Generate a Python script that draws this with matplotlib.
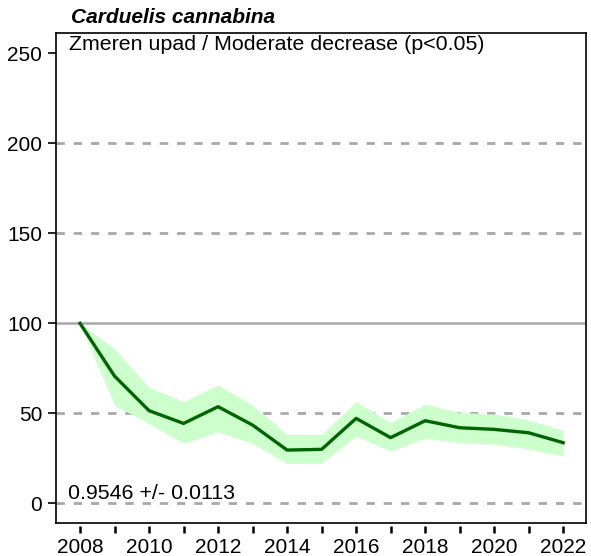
import numpy as np
import matplotlib.pyplot as plt

plt.rcParams['font.family'] = ['Liberation Sans', 'DejaVu Sans']

# podatki (indeks, 2008 = 100)
years = [2008, 2009, 2010, 2011, 2012, 2013, 2014, 2015,
         2016, 2017, 2018, 2019, 2020, 2021, 2022]
index = [100, 70.7, 51.5, 44.4, 53.7, 43.5, 29.6, 30.0,
         47.2, 36.5, 45.9, 42.0, 41.1, 39.2, 33.7]
upper = [100, 86.0, 64.4, 56.5, 65.7, 54.6, 38.3, 38.3,
         56.5, 44.8, 55.2, 50.5, 49.6, 46.3, 40.7]
lower = [100, 54.6, 44.4, 33.3, 39.8, 33.3, 22.2, 22.2,
         37.4, 29.0, 36.1, 33.9, 32.9, 30.2, 26.3]

species = 'Carduelis cannabina'
trend_text = 'Zmeren upad / Moderate decrease (p<0.05)'
slope_text = '0.9546 +/- 0.0113'

fig = plt.figure(figsize=(5.91, 5.56), dpi=100)
ax = fig.add_axes([0.0948, 0.0594, 0.8967, 0.8806])

# pomozne crte
for yv in [0, 50, 150, 200]:
    ax.axhline(yv, color='#a8a8a8', lw=2, ls=(0, (3, 3.2)), zorder=1)
ax.axhline(100, color='#a8a8a8', lw=1.8, zorder=1)

ax.fill_between(years, lower, upper, color='#ccffcc', lw=0, zorder=2)
ax.plot(years, index, color='#006400', lw=2.4, zorder=3)

ax.set_xlim(2007.305, 2022.66)
ax.set_ylim(-10.9, 261.1)

ax.set_yticks([0, 50, 100, 150, 200, 250])
ax.tick_params(axis='y', direction='out', length=6, width=1.2, pad=4,
               labelsize=15)
ax.set_xticks([])
for s in ax.spines.values():
    s.set_linewidth(1.2)

# x os z zamikom (kot v R)
sec = ax.secondary_xaxis(-0.006)
sec.spines['bottom'].set_visible(False)
sec.set_xticks(years)
sec.set_xticklabels([str(y) if y % 2 == 0 else '' for y in years])
sec.tick_params(direction='out', length=5, width=1.8, pad=4, labelsize=15)

ax.text(0.028, 1.014, species, transform=ax.transAxes, fontsize=15,
        fontweight='bold', style='italic', ha='left', va='bottom')
ax.text(0.024, 0.996, trend_text, transform=ax.transAxes, fontsize=15.4,
        ha='left', va='top')
ax.text(0.023, 0.041, slope_text, transform=ax.transAxes, fontsize=15.4,
        ha='left', va='bottom')

fig.savefig('out.png', dpi=100)
